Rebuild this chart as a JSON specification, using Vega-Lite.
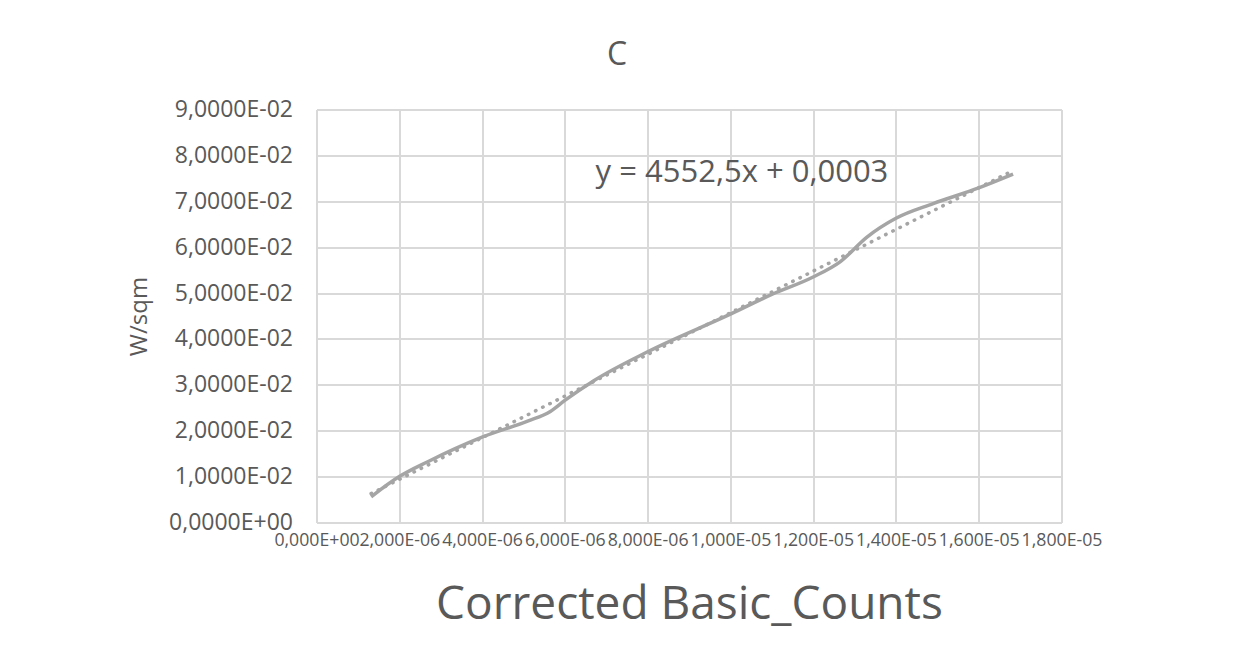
{
  "$schema": "https://vega.github.io/schema/vega-lite/v6.json",
  "autosize": "none",
  "width": 745,
  "height": 413,
  "padding": {"left": 316.5, "top": 109.5, "right": 176.5, "bottom": 128.5},
  "background": "white",
  "title": {
    "text": "C",
    "fontSize": 32,
    "font": "Open Sans",
    "fontWeight": "normal",
    "color": "#595959",
    "anchor": "middle",
    "dx": -72,
    "offset": 27
  },
  "config": {
    "view": {"stroke": null},
    "font": "Open Sans",
    "axis": {
      "gridColor": "#d9d9d9",
      "gridWidth": 2,
      "domainColor": "#d9d9d9",
      "domainWidth": 2,
      "ticks": false,
      "labelColor": "#595959",
      "titleColor": "#595959",
      "titleFontWeight": "normal",
      "labelFont": "Open Sans",
      "titleFont": "Open Sans"
    }
  },
  "datasets": {
    "curve": [
      {"x": 1.32e-6, "y": 0.0056},
      {"x": 2.0e-6, "y": 0.0100},
      {"x": 2.7e-6, "y": 0.0133},
      {"x": 4.0e-6, "y": 0.0186},
      {"x": 5.1e-6, "y": 0.0221},
      {"x": 5.65e-6, "y": 0.0242},
      {"x": 6.0e-6, "y": 0.0266},
      {"x": 6.7e-6, "y": 0.0309},
      {"x": 8.0e-6, "y": 0.0372},
      {"x": 1.0e-5, "y": 0.0454},
      {"x": 1.1e-5, "y": 0.0497},
      {"x": 1.2e-5, "y": 0.0535},
      {"x": 1.265e-5, "y": 0.0568},
      {"x": 1.33e-5, "y": 0.0622},
      {"x": 1.4e-5, "y": 0.0663},
      {"x": 1.49e-5, "y": 0.0695},
      {"x": 1.6e-5, "y": 0.0729},
      {"x": 1.683e-5, "y": 0.0759}
    ],
    "trend": [
      {"x": 1.32e-6, "y": 0.0063},
      {"x": 1.683e-5, "y": 0.0767}
    ],
    "note": [
      {"x": 1.028e-5, "y": 0.0761, "label": "y = 4552,5x + 0,0003"}
    ]
  },
  "layer": [
    {
      "data": {"name": "curve"},
      "mark": {"type": "line", "color": "#a5a5a5", "strokeWidth": 3.5, "interpolate": "monotone"},
      "encoding": {
        "x": {
          "field": "x",
          "type": "quantitative",
          "scale": {"domain": [0, 1.8e-5], "nice": false, "zero": false},
          "axis": {
            "title": "Corrected Basic_Counts",
            "values": [0, 2e-6, 4e-6, 6e-6, 8e-6, 1e-5, 1.2e-5, 1.4e-5, 1.6e-5, 1.8e-5],
            "labelExpr": "replace(replace(replace(format(datum.value, '.3e'), '.', ','), 'e-', 'E-0'), 'e+', 'E+0')",
            "labelFontSize": 17.7,
            "labelPadding": 9,
            "labelOverlap": false,
            "labelFlush": false,
            "labelBound": false,
            "titleFontSize": 46,
            "titlePadding": 33
          }
        },
        "y": {
          "field": "y",
          "type": "quantitative",
          "scale": {"domain": [0, 0.09], "nice": false, "zero": false},
          "axis": {
            "title": "W/sqm",
            "values": [0, 0.01, 0.02, 0.03, 0.04, 0.05, 0.06, 0.07, 0.08, 0.09],
            "labelExpr": "replace(replace(replace(format(datum.value, '.4e'), '.', ','), 'e-', 'E-0'), 'e+', 'E+0')",
            "labelFontSize": 23,
            "labelPadding": 24,
            "labelOverlap": false,
            "labelFlush": false,
            "labelBound": false,
            "titleFontSize": 24,
            "titlePadding": 17
          }
        }
      }
    },
    {
      "data": {"name": "trend"},
      "mark": {"type": "line", "color": "#a5a5a5", "strokeWidth": 3.5, "strokeDash": [0.5, 7.5], "strokeCap": "round"},
      "encoding": {
        "x": {"field": "x", "type": "quantitative"},
        "y": {"field": "y", "type": "quantitative"}
      }
    },
    {
      "data": {"name": "note"},
      "mark": {"type": "text", "fontSize": 31, "color": "#595959", "font": "Open Sans", "align": "center", "baseline": "middle"},
      "encoding": {
        "x": {"field": "x", "type": "quantitative"},
        "y": {"field": "y", "type": "quantitative"},
        "text": {"field": "label"}
      }
    }
  ]
}
